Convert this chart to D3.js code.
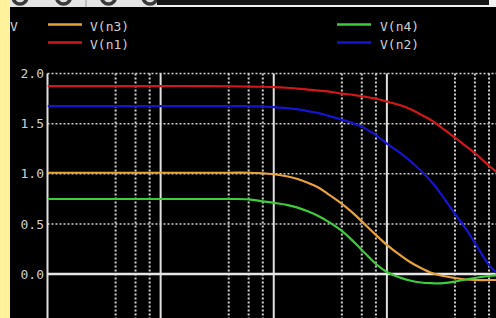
<!DOCTYPE html>
<html>
<head>
<meta charset="utf-8">
<script src="https://cdn.jsdelivr.net/npm/d3@7"></script>
<style>
  html, body { margin: 0; padding: 0; background: #000; }
  svg { display: block; }
  text { font-family: "DejaVu Sans Mono", monospace; font-size: 13px; fill: #cfcfcf; }
</style>
</head>
<body>
<svg width="496" height="318"></svg>
<script>
// sweep points (log axis) and node voltages
const freqs = [1, 10, 20, 40, 60, 80, 100, 130, 160, 200, 250, 300, 400, 500, 600, 800,
  1000, 1300, 1600, 2000, 2500, 3000, 4000, 5000, 6000, 8000, 10000];
const vN1 = [1.875, 1.875, 1.875, 1.873, 1.87, 1.868, 1.865, 1.858, 1.85, 1.84, 1.83, 1.822,
  1.80, 1.787, 1.773, 1.748, 1.72, 1.685, 1.645, 1.59, 1.53, 1.465, 1.36, 1.275, 1.205, 1.08, 0.99];
const vN2 = [1.675, 1.675, 1.675, 1.675, 1.675, 1.67, 1.665, 1.655, 1.645, 1.625, 1.605, 1.58,
  1.54, 1.505, 1.47, 1.385, 1.30, 1.21, 1.13, 1.03, 0.915, 0.80, 0.60, 0.45, 0.31, 0.09, -0.02];
const vN3 = [1.01, 1.01, 1.01, 1.01, 1.01, 1.005, 0.995, 0.975, 0.95, 0.91, 0.86, 0.80,
  0.70, 0.61, 0.525, 0.39, 0.29, 0.19, 0.12, 0.06, 0.01, -0.015, -0.04, -0.055, -0.06, -0.06, -0.06];
const vN4 = [0.748, 0.748, 0.748, 0.748, 0.745, 0.725, 0.71, 0.69, 0.665, 0.625, 0.575, 0.525,
  0.43, 0.33, 0.24, 0.10, 0.02, -0.035, -0.065, -0.085, -0.092, -0.093, -0.075, -0.055, -0.04, -0.02, -0.01];

const yTicks = [0, 0.5, 1, 1.5, 2];
const decades = [1, 10, 100, 1000];
const minorTicks = [4, 6, 8, 40, 60, 80, 400, 600, 800, 4000, 6000, 8000];
const unitLabel = "V";

const series = [
  { name: "V(n1)", values: vN1, color: "#d01818" },
  { name: "V(n2)", values: vN2, color: "#1414d2" },
  { name: "V(n3)", values: vN3, color: "#e8a23c" },
  { name: "V(n4)", values: vN4, color: "#3ccc3c" }
];
// legend layout order as in the window
const legendOrder = ["V(n3)", "V(n1)", "V(n4)", "V(n2)"];

const svg = d3.select("svg");

// background
svg.append("rect").attr("width", 496).attr("height", 318).attr("fill", "#000");

// scales
const x = d3.scaleLog().domain([1, 10000]).range([47.5, 500]);
const y = d3.scaleLinear().domain([0, 2]).range([274, 73.5]);
const plotTop = y(2), plotBottom = 318;

// minor vertical grid (dotted)
svg.append("g").selectAll("line")
  .data(minorTicks)
  .enter()
  .append("line")
  .attr("x1", d => x(d)).attr("x2", d => x(d))
  .attr("y1", plotTop).attr("y2", plotBottom)
  .attr("stroke", "#cfcfcf")
  .attr("stroke-width", 2)
  .attr("stroke-dasharray", "2,2");

// horizontal grid (dotted) except zero
svg.append("g").selectAll("line")
  .data(yTicks.filter(d => d !== 0))
  .enter()
  .append("line")
  .attr("x1", x(1)).attr("x2", 496)
  .attr("y1", d => y(d)).attr("y2", d => y(d))
  .attr("stroke", "#cfcfcf")
  .attr("stroke-width", 1.5)
  .attr("stroke-dasharray", "2,2");

// decade lines (solid)
svg.append("g").selectAll("line")
  .data(decades)
  .enter()
  .append("line")
  .attr("x1", d => x(d)).attr("x2", d => x(d))
  .attr("y1", plotTop).attr("y2", plotBottom)
  .attr("stroke", "#e0e0e0")
  .attr("stroke-width", 2);

// zero line
svg.append("line")
  .attr("x1", x(1)).attr("x2", 496)
  .attr("y1", y(0)).attr("y2", y(0))
  .attr("stroke", "#e6e6e6")
  .attr("stroke-width", 2.5);

// y tick labels
const yAxis = d3.axisLeft(y)
  .tickValues(yTicks)
  .tickSize(0)
  .tickPadding(0)
  .tickFormat(d3.format(".1f"));
const yg = svg.append("g")
  .attr("transform", "translate(44,0)")
  .call(yAxis);
yg.select(".domain").remove();
yg.selectAll("text")
  .attr("fill", "#c8c8c8")
  .style("font-family", "'DejaVu Sans Mono', monospace")
  .style("font-size", "13px");

// curves
const line = d3.line()
  .curve(d3.curveCatmullRom.alpha(0.5))
  .x((d, i) => x(freqs[i]))
  .y(d => y(d));

svg.append("defs").append("clipPath").attr("id", "plot")
  .append("rect").attr("x", x(1)).attr("y", plotTop - 5).attr("width", 496 - x(1)).attr("height", plotBottom);

svg.append("g")
  .attr("clip-path", "url(#plot)")
  .selectAll("path")
  .data(series)
  .enter()
  .append("path")
  .attr("d", d => line(d.values))
  .attr("fill", "none")
  .attr("stroke", d => d.color)
  .attr("stroke-width", 2.2);

// legend
const legendPos = [
  { lx: 48, tx: 90, ly: 24.5 },
  { lx: 48, tx: 90, ly: 42.5 },
  { lx: 337, tx: 380, ly: 24.5 },
  { lx: 337, tx: 380, ly: 42.5 }
];
const legend = svg.append("g").selectAll("g")
  .data(legendOrder)
  .enter()
  .append("g");
legend.append("line")
  .attr("x1", (d, i) => legendPos[i].lx).attr("x2", (d, i) => legendPos[i].lx + 34)
  .attr("y1", (d, i) => legendPos[i].ly).attr("y2", (d, i) => legendPos[i].ly)
  .attr("stroke", d => series.find(s => s.name === d).color)
  .attr("stroke-width", 2.5);
legend.append("text")
  .attr("x", (d, i) => legendPos[i].tx)
  .attr("y", (d, i) => legendPos[i].ly + 6.5)
  .attr("fill", "#dedede")
  .text(d => d);

svg.append("text")
  .attr("x", 10)
  .attr("y", 31)
  .attr("fill", "#c8c8c8")
  .text(unitLabel);

// window chrome: toolbar strip and yellow edge
svg.append("rect").attr("x", 10).attr("y", 0).attr("width", 147).attr("height", 7).attr("fill", "#e4e4e4");
svg.append("clipPath").attr("id", "bar")
  .append("rect").attr("x", 10).attr("y", 0).attr("width", 147).attr("height", 7);
svg.append("g")
  .attr("clip-path", "url(#bar)")
  .selectAll("circle")
  .data([20, 63.5, 108.5, 150])
  .enter()
  .append("circle")
  .attr("cx", d => d).attr("cy", -3).attr("r", 7)
  .attr("fill", "none")
  .attr("stroke", "#3a3a3a")
  .attr("stroke-width", 3.5);
svg.append("line")
  .attr("x1", 86).attr("x2", 86).attr("y1", 0).attr("y2", 7)
  .attr("stroke", "#9a9a9a").attr("stroke-width", 1);
svg.append("rect").attr("x", 157).attr("y", 0).attr("width", 332).attr("height", 5).attr("fill", "#151515");
svg.append("rect").attr("x", 157).attr("y", 5).attr("width", 332).attr("height", 2).attr("fill", "#f2f2f2");
svg.append("rect").attr("x", 489).attr("y", 0).attr("width", 7).attr("height", 7).attr("fill", "#f2f2f2");
svg.append("rect").attr("x", 0).attr("y", 0).attr("width", 10).attr("height", 318).attr("fill", "#fff29a");
</script>
</body>
</html>
